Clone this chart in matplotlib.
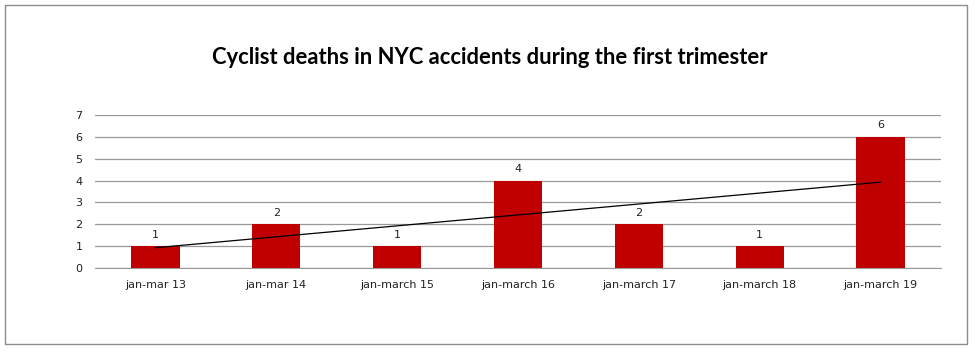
import matplotlib
matplotlib.use("Agg")
import matplotlib.pyplot as plt
import numpy as np
from matplotlib.patches import Rectangle

categories = ["jan-mar 13", "jan-mar 14", "jan-march 15", "jan-march 16",
              "jan-march 17", "jan-march 18", "jan-march 19"]
deaths = [1, 2, 1, 4, 2, 1, 6]

BAR_COLOR = "#C00000"
GRID_COLOR = "#999999"

fig = plt.figure(figsize=(9.8, 3.6), dpi=100)
fig.patches.append(Rectangle((5 / 980, 16 / 360), 962 / 980, 339 / 360,
                             transform=fig.transFigure, fill=False,
                             edgecolor="#8C8C8C", linewidth=1.0))

ax = fig.add_axes([95 / 980, 92 / 360, 846 / 980, 153 / 360])
x = np.arange(len(categories))
ax.bar(x, deaths, width=0.4, color=BAR_COLOR, zorder=3)
for xi, v in zip(x, deaths):
    ax.text(xi, v + 0.3, str(v), ha="center", va="bottom", fontsize=8,
            family="DejaVu Sans", color="#222")

# linear trend line (Excel style), drawn from first to last category
coef = np.polyfit(x, deaths, 1)
ax.plot([x[0], x[-1]], np.polyval(coef, [x[0], x[-1]]), color="black",
        linewidth=0.9, zorder=4)

ax.set_xlim(-0.5, len(categories) - 0.5)
ax.set_ylim(0, 7)
ax.set_yticks(range(0, 8))
ax.set_xticks(x)
ax.set_xticklabels(categories)
ax.tick_params(axis="both", length=0, labelsize=8, colors="#222")
ax.tick_params(axis="x", pad=9)
ax.tick_params(axis="y", pad=9)
ax.grid(axis="y", color=GRID_COLOR, linewidth=0.9, zorder=0)
for s in ["top", "right", "left"]:
    ax.spines[s].set_visible(False)
ax.spines["bottom"].set_color(GRID_COLOR)
ax.spines["bottom"].set_zorder(5)

fig.text(490 / 980, 1 - 57 / 360, "Cyclist deaths in NYC accidents during the first trimester",
         ha="center", va="center", fontsize=15.8, fontweight="bold", family="Lato")

fig.savefig("out.png", dpi=100)
